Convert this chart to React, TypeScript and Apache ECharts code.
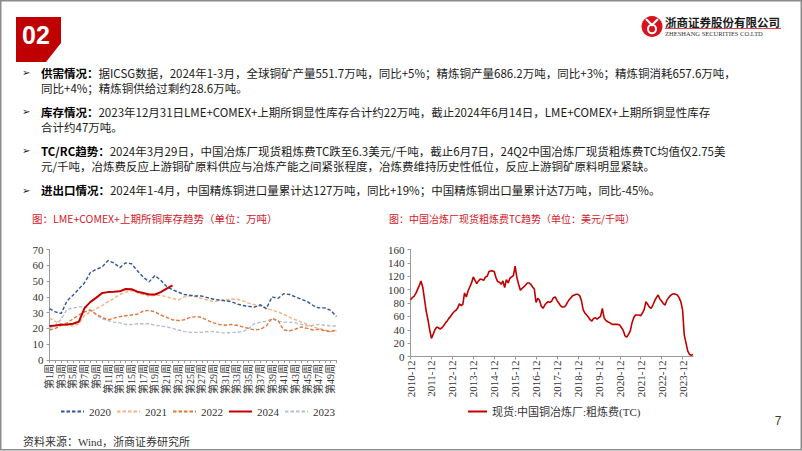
import React, { useEffect, useRef } from 'react';
import * as echarts from 'echarts';

// ---------- Left chart: LME+COMEX+SHFE copper inventory (万吨) ----------
const weekCount = 50;
const weeks: string[] = Array.from({ length: weekCount }, (_, i) => `第${i + 1}周`);
const legendYears = ['2020', '2021', '2022', '2024', '2023'];

const inv2020 = [32.5, 30.5, 29.5, 37.5, 41, 45, 49, 55.5, 57.5, 59, 63, 61.5, 58.5, 61.5, 61, 56.5, 52.5, 49.5, 53.5, 50.5, 46.5, 44.5, 43, 41.5, 41, 40.5, 40.5, 39.5, 38.5, 38, 37.5, 37, 35.5, 34.5, 34, 33.5, 35, 32.5, 40, 39, 42, 41.5, 40, 38.5, 37, 34.5, 33, 33, 31.5, 27.5];
const inv2021 = [26.5, 24.5, 23, 22, 21.5, 23, 28.5, 30.5, 32.5, 34.5, 37, 39, 41.5, 43, 44, 42.5, 41.5, 40.5, 41, 41, 40, 39, 38, 40, 40.5, 40, 39, 38, 37, 37.5, 38, 38.5, 38.5, 37.5, 36, 35, 34, 33, 31.5, 30.5, 29, 27, 25.5, 24, 22.5, 21, 20, 19, 18, 18.5];
const inv2022 = [19, 20, 22, 23.5, 26, 28.5, 30.5, 31.5, 29, 27, 25.5, 26.5, 27.5, 28, 28.5, 29, 31, 31.5, 30.5, 28.5, 27, 25.5, 25, 25.5, 27, 27.5, 27, 25, 23.5, 22.5, 22, 22.5, 22, 21, 20, 19, 19.5, 21.5, 26.5, 25, 19, 18.5, 19.5, 21, 20, 19, 19.5, 18.5, 18, 19];
const inv2023 = [20, 22, 26, 32, 33, 33.5, 34, 31.5, 28.5, 26, 25, 24, 23.5, 22.5, 22.5, 23, 23, 23, 22, 21.5, 21, 20, 19, 18, 17.5, 17.5, 17.5, 18, 18, 17.5, 17, 17.5, 17.5, 18, 20, 23, 24, 24.5, 26, 24.5, 24, 24, 23.5, 22.5, 21.5, 22, 22.5, 22, 21.5, 21.5];
const inv2024 = [21.5, 21.8, 22.3, 22.5, 23, 24.2, 33, 36.8, 39.5, 42.5, 43, 43.2, 43.5, 45, 44.8, 43.3, 42.5, 41.5, 41.5, 43, 45.2, 47.3];

const invYTicks = { min: 0, max: 70, interval: 10 };

// ---------- Right chart: China smelter spot TC (美元/千吨), monthly ----------
const tcStart = { year: 2010, month: 12 };
const tcValues = [
  85, 88, 90, 94, 100, 106, 113, 104, 86, 68, 55, 40, 27,
  33, 40, 44, 43, 41, 43, 46, 50, 53, 57, 60, 64,
  67, 69, 72, 79, 76, 78, 95, 89, 98, 104, 110, 119,
  114, 109, 113, 116, 115, 114, 119, 120, 127, 128, 128, 127,
  118, 112, 111, 108, 113, 103, 115, 110, 117, 119, 121, 135,
  118, 108, 99, 102, 104, 107, 110, 110, 108, 104, 101, 81,
  87, 84, 75, 72, 77, 80, 82, 81, 83, 88, 89, 84,
  80, 76, 74, 74, 76, 81, 85, 88, 91, 92, 93, 93,
  91, 84, 70, 65, 62, 59, 55, 53, 57, 58, 56, 58,
  60, 72, 58, 54, 52, 51, 49, 48, 48, 48, 48, 47,
  43, 39, 31, 29, 33, 38, 50, 58, 62, 62, 62, 61,
  65, 70, 82, 78, 74, 72, 77, 83, 88, 92, 86, 83,
  79, 77, 84, 88, 91, 93, 94, 93, 92, 88, 82, 70,
  32, 20, 8, 3, 2, 3,
];
const tcMonths: string[] = tcValues.map((_, i) => {
  const total = tcStart.year * 12 + (tcStart.month - 1) + i;
  const y = Math.floor(total / 12);
  const m = (total % 12) + 1;
  return `${y}-${m < 10 ? '0' + m : m}`;
});
const tcYTicks = { min: 0, max: 160, interval: 20 };
const tcSeriesName = '现货:中国铜冶炼厂:粗炼费(TC)';

// ---------- Slide texts ----------
const bulletLines = [
  { y: 72.5, arrow: true, head: '供需情况：', body: '据ICSG数据，2024年1-3月，全球铜矿产量551.7万吨，同比+5%；精炼铜产量686.2万吨，同比+3%；精炼铜消耗657.6万吨，' },
  { y: 88, arrow: false, head: '', body: '同比+4%；精炼铜供给过剩约28.6万吨。' },
  { y: 111.5, arrow: true, head: '库存情况：', body: '2023年12月31日LME+COMEX+上期所铜显性库存合计约22万吨，截止2024年6月14日，LME+COMEX+上期所铜显性库存' },
  { y: 126.5, arrow: false, head: '', body: '合计约47万吨。' },
  { y: 150.5, arrow: true, head: 'TC/RC趋势：', body: '2024年3月29日，中国冶炼厂现货粗炼费TC跌至6.3美元/千吨，截止6月7日，24Q2中国冶炼厂现货粗炼费TC均值仅2.75美' },
  { y: 165.5, arrow: false, head: '', body: '元/千吨，冶炼费反应上游铜矿原料供应与冶炼产能之间紧张程度，冶炼费维持历史性低位，反应上游铜矿原料明显紧缺。' },
  { y: 190, arrow: true, head: '进出口情况：', body: '2024年1-4月，中国精炼铜进口量累计达127万吨，同比+19%；中国精炼铜出口量累计达7万吨，同比-45%。' },
];
const leftTitle = '图：LME+COMEX+上期所铜库存趋势（单位：万吨）';
const rightTitle = '图：中国冶炼厂现货粗炼费TC趋势（单位：美元/千吨）';
const sourceText = '资料来源：Wind，浙商证券研究所';
const pageNo = '7';
const sectionNo = '02';
const companyCn = '浙商证券股份有限公司';
const companyEn = 'ZHESHANG SECURITIES CO.LTD';

const SANS = '"Noto Sans CJK SC", "Noto Sans", sans-serif';
const SERIF = '"Liberation Serif", "DejaVu Serif", "Noto Sans CJK SC", serif';
const RED = '#c00000';

export default function App() {
  const ref = useRef<HTMLDivElement>(null);

  useEffect(() => {
    document.body.style.margin = '0';
    const chart = echarts.init(ref.current!, null, { renderer: 'svg', width: 802, height: 451 });

    const graphic: any[] = [
      { type: 'rect', shape: { x: 0.75, y: 0.75, width: 800.5, height: 449 }, style: { fill: 'none', stroke: '#8c8c8c', lineWidth: 1.5 }, silent: true },
      { type: 'polygon', shape: { points: [[16, 17], [61, 17], [61, 43], [46, 62], [16, 62]] }, style: { fill: RED } },
      { type: 'text', x: 36, y: 35, style: { text: sectionNo, fill: '#fff', fontSize: 25, fontWeight: 'bold', fontFamily: '"Liberation Sans", Arial, sans-serif', textAlign: 'center', textVerticalAlign: 'middle' } },
      // logo
      { type: 'circle', shape: { cx: 652, cy: 26.5, r: 10.5 }, style: { fill: '#d7141e' } },
      { type: 'ellipse', shape: { cx: 652, cy: 29, rx: 4, ry: 4.2 }, style: { fill: 'none', stroke: '#fff', lineWidth: 2 } },
      { type: 'polyline', shape: { points: [[646, 19], [652, 25], [658, 19]] }, style: { fill: 'none', stroke: '#fff', lineWidth: 2 } },
      { type: 'text', x: 665, y: 22, style: { text: companyCn, fill: '#1a1a1a', fontSize: 11.5, fontWeight: 'bold', fontFamily: SANS, textAlign: 'left', textVerticalAlign: 'middle' } },
      { type: 'line', shape: { x1: 665, y1: 28.5, x2: 781, y2: 28.5 }, style: { stroke: '#d7141e', lineWidth: 0.8 } },
      { type: 'text', x: 665, y: 33.5, style: { text: companyEn, fill: '#333', fontSize: 6.5, fontFamily: SERIF, textAlign: 'left', textVerticalAlign: 'middle' } },
      // chart titles
      { type: 'text', x: 32, y: 218, style: { text: leftTitle, fill: '#d0202a', fontSize: 10.5, fontFamily: SANS, textAlign: 'left', textVerticalAlign: 'middle' } },
      { type: 'text', x: 389, y: 218, style: { text: rightTitle, fill: '#d0202a', fontSize: 10, fontFamily: SANS, textAlign: 'left', textVerticalAlign: 'middle' } },
      // footer
      { type: 'text', x: 23, y: 441.5, style: { text: sourceText, fill: '#333', fontSize: 11, fontFamily: SERIF, textAlign: 'left', textVerticalAlign: 'middle' } },
      { type: 'text', x: 778, y: 421, style: { text: pageNo, fill: '#404040', fontSize: 12, fontFamily: '"Liberation Sans", Arial, sans-serif', textAlign: 'center', textVerticalAlign: 'middle' } },
    ];

    bulletLines.forEach((ln) => {
      if (ln.arrow) {
        graphic.push({ type: 'text', x: 22, y: ln.y, style: { text: '➢', fill: '#1a1a1a', fontSize: 10, fontFamily: '"DejaVu Sans", sans-serif', textAlign: 'left', textVerticalAlign: 'middle' } });
      }
      graphic.push({
        type: 'text', x: 41, y: ln.y,
        style: {
          text: (ln.head ? `{b|${ln.head}}` : '') + `{n|${ln.body}}`,
          fontSize: 11.5, fontFamily: SANS, fill: '#1a1a1a', textAlign: 'left', textVerticalAlign: 'middle',
          rich: {
            b: { fontSize: 11.5, fontWeight: 'bold', fontFamily: SANS, fill: '#000' },
            n: { fontSize: 11.5, fontFamily: SANS, fill: '#1a1a1a' },
          },
        },
      });
    });

    const axisLineStyle = { color: '#9a9a9a', width: 1 };
    const labelStyle = { color: '#333', fontSize: 11, fontFamily: SERIF };

    const dashed = (name: string, data: number[], color: string) => ({
      name, type: 'line', xAxisIndex: 0, yAxisIndex: 0, data, symbol: 'none', smooth: false,
      lineStyle: { color, width: 1.4, type: [3.5, 2] },
      itemStyle: { color },
    });

    const option: any = {
      animation: false,
      backgroundColor: '#ffffff',
      textStyle: { fontFamily: SERIF },
      grid: [
        { left: 49.5, top: 249.5, width: 287, height: 110.5 },
        { left: 410.5, top: 249.5, width: 282.5, height: 107 },
      ],
      xAxis: [
        {
          type: 'category', gridIndex: 0, data: weeks, boundaryGap: false,
          axisLine: { lineStyle: axisLineStyle },
          axisTick: { interval: 0, length: 3, lineStyle: axisLineStyle },
          axisLabel: { interval: 1, rotate: 90, margin: 4, color: '#333', fontSize: 10, fontFamily: SERIF },
          splitLine: { show: false },
        },
        {
          type: 'category', gridIndex: 1, data: tcMonths, boundaryGap: false,
          axisLine: { lineStyle: axisLineStyle },
          axisTick: { interval: 11, length: 3, lineStyle: axisLineStyle },
          axisLabel: { interval: 11, rotate: 90, margin: 4, ...labelStyle },
          splitLine: { show: false },
        },
      ],
      yAxis: [
        {
          type: 'value', gridIndex: 0, ...invYTicks,
          axisLine: { show: true, lineStyle: axisLineStyle },
          axisTick: { show: true, length: 3, lineStyle: axisLineStyle },
          axisLabel: { margin: 6, ...labelStyle },
          splitLine: { show: false },
        },
        {
          type: 'value', gridIndex: 1, ...tcYTicks,
          axisLine: { show: true, lineStyle: axisLineStyle },
          axisTick: { show: true, length: 3, lineStyle: axisLineStyle },
          axisLabel: { margin: 6, ...labelStyle },
          splitLine: { show: false },
        },
      ],
      legend: [
        {
          data: legendYears, left: 55, top: 401, itemWidth: 23, itemHeight: 1, itemGap: 5,
          textStyle: { color: '#333', fontSize: 11, fontFamily: SERIF },
        },
        {
          data: [tcSeriesName], left: 462, top: 401, itemWidth: 19, itemHeight: 1,
          textStyle: { color: '#333', fontSize: 11, fontFamily: SERIF },
        },
      ],
      series: [
        dashed('2023', inv2023, '#b3bfcf'),
        dashed('2021', inv2021, '#f4b183'),
        dashed('2022', inv2022, '#e2763a'),
        dashed('2020', inv2020, '#2f5597'),
        {
          name: '2024', type: 'line', xAxisIndex: 0, yAxisIndex: 0, data: inv2024, symbol: 'none',
          lineStyle: { color: RED, width: 2 }, itemStyle: { color: RED }, z: 5,
        },
        {
          name: tcSeriesName, type: 'line', xAxisIndex: 1, yAxisIndex: 1, data: tcValues, symbol: 'none',
          lineStyle: { color: RED, width: 1.6 }, itemStyle: { color: RED },
        },
      ],
      graphic,
    };

    chart.setOption(option);
    return () => chart.dispose();
  }, []);

  return (
    <div style={{ position: 'fixed', left: 0, top: 0, width: 802, height: 451, background: '#fff' }}>
      <div ref={ref} style={{ width: 802, height: 451 }} />
    </div>
  );
}
